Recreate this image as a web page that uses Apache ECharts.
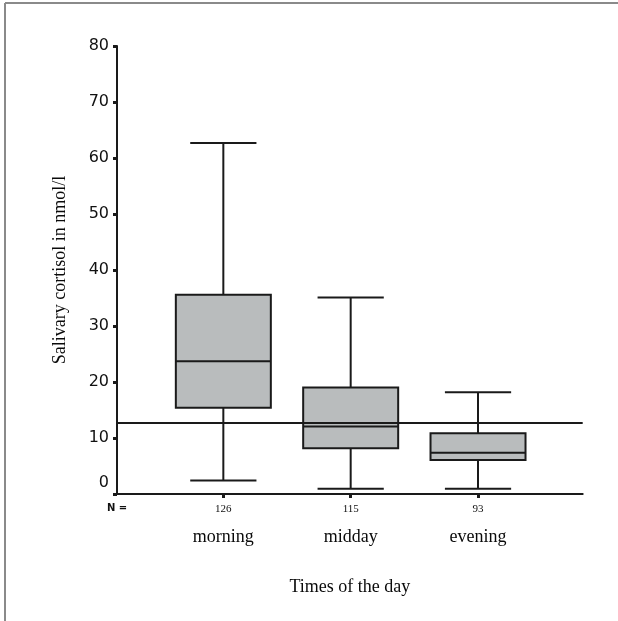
<!DOCTYPE html>
<html>
<head>
<meta charset="utf-8">
<script src="https://cdn.jsdelivr.net/npm/echarts@6/dist/echarts.min.js"></script>
<style>
html,body{margin:0;padding:0;background:#fff;}
#chart{width:618px;height:621px;}
</style>
</head>
<body>
<div id="chart"></div>
<script>
// ---- data ----
const categories = ['morning', 'midday', 'evening'];
const nValues = ['126', '115', '93'];
const whiskerLow = [2.4, 0.95, 0.95];
const q1 = [15.4, 8.15, 6.07];
const median = [23.7, 12.05, 7.38];
const q3 = [35.6, 19.0, 10.83];
const whiskerHigh = [62.7, 35.1, 18.16];
const referenceLine = 12.7;
const yTickLabels = ['0', '10', '20', '30', '40', '50', '60', '70', '80'];
const categoryPositions = [1, 2, 3];

const boxData = categories.map((c, i) => [categoryPositions[i], whiskerLow[i], q1[i], median[i], q3[i], whiskerHigh[i]]);

const BOX_HALF = 0.373;
const CAP_HALF = 0.26;
const LINE = { stroke: '#1a1a1a', lineWidth: 2 };

const chart = echarts.init(document.getElementById('chart'), null, { renderer: 'canvas' });

chart.setOption({
  backgroundColor: '#ffffff',
  animation: false,
  grid: { left: 117, right: 35.3, top: 46, bottom: 127, containLabel: false },
  xAxis: {
    type: 'value',
    min: 0.165,
    max: 3.822,
    name: 'Times of the day',
    nameLocation: 'middle',
    nameGap: 84,
    nameTextStyle: { fontFamily: 'Liberation Serif', fontSize: 18, color: '#0a0a0a' },
    axisLine: { show: true, onZero: false, lineStyle: { color: '#1a1a1a', width: 2 } },
    axisTick: { show: true, customValues: categoryPositions, length: 4, lineStyle: { color: '#1a1a1a', width: 3 } },
    splitLine: { show: false },
    axisLabel: {
      customValues: categoryPositions,
      margin: 5,
      formatter: function (v) {
        const i = categoryPositions.indexOf(Math.round(v));
        return '{n|' + nValues[i] + '}\n{c|' + categories[i] + '}';
      },
      rich: {
        n: { fontFamily: 'Liberation Serif', fontSize: 11, lineHeight: 20, color: '#111' },
        c: { fontFamily: 'Liberation Serif', fontSize: 18, lineHeight: 36, color: '#0a0a0a' }
      }
    }
  },
  yAxis: {
    type: 'value',
    min: 0,
    max: 80,
    interval: 10,
    name: 'Salivary cortisol in nmol/l',
    nameLocation: 'middle',
    nameGap: 48,
    nameRotate: 90,
    nameTextStyle: { fontFamily: 'Liberation Serif', fontSize: 18, color: '#0a0a0a' },
    axisLine: { show: true, lineStyle: { color: '#1a1a1a', width: 2 } },
    axisTick: { show: true, length: 4, lineStyle: { color: '#1a1a1a', width: 3 } },
    splitLine: { show: false },
    axisLabel: {
      margin: 8,
      fontFamily: 'DejaVu Sans',
      fontSize: 16,
      color: '#111',
      formatter: function (v) {
        const s = yTickLabels[Math.round(v / 10)];
        return v === 0 ? '{z|' + s + '}' : s;
      },
      rich: {
        z: { fontFamily: 'DejaVu Sans', fontSize: 16, color: '#111', padding: [0, 0, 22, 0] }
      }
    }
  },
  graphic: [
    { type: 'line', shape: { x1: 5, y1: 3, x2: 618, y2: 3 }, style: { stroke: '#8a8a8a', lineWidth: 2 }, silent: true },
    { type: 'line', shape: { x1: 5, y1: 3, x2: 5, y2: 621 }, style: { stroke: '#8a8a8a', lineWidth: 2 }, silent: true },
    { type: 'text', left: 107, top: 503, style: { text: 'N =', font: 'bold 10px "DejaVu Sans"', fill: '#111' }, silent: true }
  ],
  series: [{
    type: 'custom',
    data: boxData,
    encode: { x: 0, y: [1, 2, 3, 4, 5] },
    renderItem: function (params, api) {
      const x = api.value(0);
      const lo = api.value(1), a = api.value(2), m = api.value(3), b = api.value(4), hi = api.value(5);
      const pLo = api.coord([x, lo]);
      const pHi = api.coord([x, hi]);
      const pA = api.coord([x, a]);
      const pB = api.coord([x, b]);
      const pM = api.coord([x, m]);
      const bl = api.coord([x - BOX_HALF, b]);
      const br = api.coord([x + BOX_HALF, a]);
      const cl = api.coord([x - CAP_HALF, lo])[0];
      const cr = api.coord([x + CAP_HALF, lo])[0];
      return {
        type: 'group',
        children: [
          { type: 'line', shape: { x1: pHi[0], y1: pHi[1], x2: pB[0], y2: pB[1] }, style: LINE },
          { type: 'line', shape: { x1: pA[0], y1: pA[1], x2: pLo[0], y2: pLo[1] }, style: LINE },
          { type: 'line', shape: { x1: cl, y1: pHi[1], x2: cr, y2: pHi[1] }, style: LINE },
          { type: 'line', shape: { x1: cl, y1: pLo[1], x2: cr, y2: pLo[1] }, style: LINE },
          { type: 'rect', shape: { x: bl[0], y: bl[1], width: br[0] - bl[0], height: br[1] - bl[1] },
            style: { fill: '#b9bcbd', stroke: '#1a1a1a', lineWidth: 2 } },
          { type: 'line', shape: { x1: bl[0], y1: pM[1], x2: br[0], y2: pM[1] }, style: LINE }
        ]
      };
    },
    markLine: {
      silent: true,
      symbol: ['none', 'none'],
      label: { show: false },
      lineStyle: { color: '#1a1a1a', width: 2, type: 'solid' },
      data: [{ yAxis: referenceLine }]
    },
    z: 2
  }]
});
</script>
</body>
</html>
